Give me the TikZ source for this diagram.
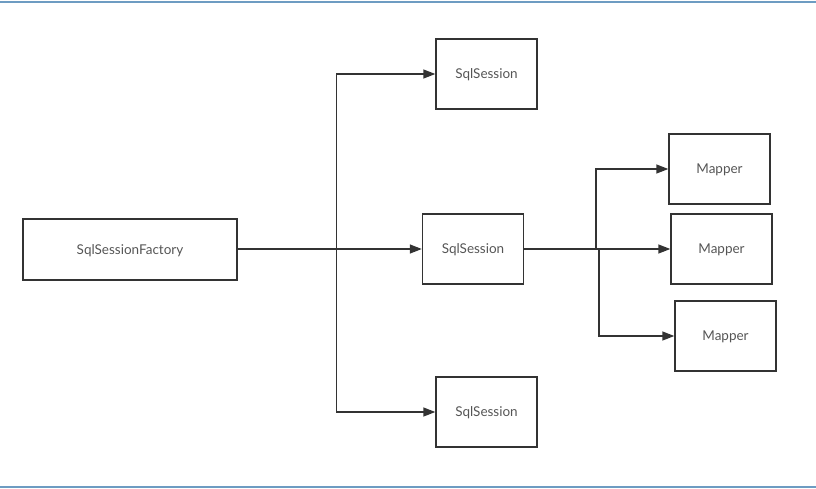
\documentclass[tikz,border=0pt]{standalone}
\usepackage{fontspec}
\setmainfont{Lato}
\usetikzlibrary{arrows.meta}

\definecolor{linegray}{HTML}{333333}
\definecolor{textgray}{HTML}{555555}
\definecolor{framblue}{HTML}{6D9CC2}

\tikzset{
  box/.style={draw=linegray,line width=1.4pt,inner sep=0pt,minimum width=101pt,minimum height=70pt,text=textgray,text depth=0pt,font=\fontsize{13.5}{15}\selectfont},
  pfeil/.style={draw=linegray,line width=1.4pt,-{Triangle[length=12pt,width=9pt]}},
  linie/.style={draw=linegray,line width=1.6pt}
}

\begin{document}
\begin{tikzpicture}[x=1pt,y=-1pt]
\useasboundingbox (0,0) rectangle (816,488);
\draw[framblue,line width=2pt] (0,1.5) -- (816,1.5);
\draw[framblue,line width=2pt] (0,486.5) -- (816,486.5);

\node[box,minimum width=214pt,minimum height=61pt](F) at (130,249.5){SqlSessionFactory};

\node[box](S1) at (486.5,74){SqlSession};
\node[box](S2) at (473,249){SqlSession};
\node[box](S3) at (486.5,412){SqlSession};

\node[box](M1) at (719.5,169){Mapper};
\node[box](M2) at (721.5,249){Mapper};
\node[box](M3) at (725.5,336){Mapper};

\coordinate(J) at (336.5,249);
\coordinate(K1) at (596,249);
\coordinate(K2) at (599,249);

\draw[linie](F.east |- J) -- (J);
\draw[pfeil](J) |- (S1);
\draw[pfeil](J) -- (S2);
\draw[pfeil](J) |- (S3);

\draw[linie](S2.east) -- (K2);
\draw[pfeil](K1) |- (M1);
\draw[pfeil](K2) -- (M2);
\draw[pfeil](K2) |- (M3);

\end{tikzpicture}
\end{document}
